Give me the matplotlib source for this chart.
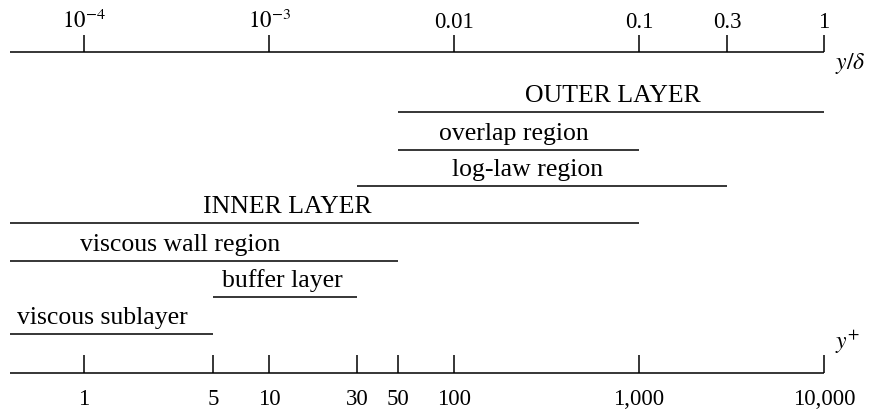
import matplotlib.pyplot as plt

# regions of the wall-bounded flow, in y+ (wall units)
regions = ['OUTER LAYER', 'overlap region', 'log-law region', 'INNER LAYER',
           'viscous wall region', 'buffer layer', 'viscous sublayer']
starts = [50, 50, 30, 0.4, 0.4, 5, 0.4]
ends = [10000, 1000, 3000, 1000, 50, 30, 5]
label_x = [720, 210, 250, 12.5, 3.3, 11.8, 1.25]
rows = [112, 150, 186, 223, 261, 297, 334]

# axes ticks
yplus_ticks = [1, 5, 10, 30, 50, 100, 1000, 10000]
yplus_labels = ['1', '5', '10', '30', '50', '100', '1,000', '10,000']
ydelta_ticks = [1e-4, 1e-3, 0.01, 0.1, 0.3, 1]
ydelta_labels = [r'$10^{-4}$', r'$10^{-3}$', '0.01', '0.1', '0.3', '1']
Re_tau = 10000  # y+ = y/delta * Re_tau

plt.rcParams['font.family'] = ['Liberation Serif', 'DejaVu Serif']
plt.rcParams['mathtext.fontset'] = 'stix'

fig = plt.figure(figsize=(8.77, 4.17), dpi=100)
ax = fig.add_axes([0, 0, 1, 1])
ax.set_xscale('log')
ax.set_xlim(0.351, 19330)
ax.set_ylim(417, 0)
ax.axis('off')

lw = 1.1
x_left = 0.4

# top axis: y/delta
ax.hlines(52, x_left, Re_tau, color='k', lw=lw)
ax.vlines([t * Re_tau for t in ydelta_ticks], 35, 52, color='k', lw=lw)
for t, lab in zip(ydelta_ticks, ydelta_labels):
    ax.text(t * Re_tau, 28, lab, ha='center', va='baseline', fontsize=16.5)
ax.text(Re_tau * 1.15, 69, r'$y/\delta$', ha='left', va='baseline', fontsize=17)

# bottom axis: y+
ax.hlines(373, x_left, Re_tau, color='k', lw=lw)
ax.vlines(yplus_ticks, 355, 373, color='k', lw=lw)
for t, lab in zip(yplus_ticks, yplus_labels):
    ax.text(t, 405, lab, ha='center', va='baseline', fontsize=16.5)
ax.text(Re_tau * 1.15, 349, r'$y^{+}$', ha='left', va='baseline', fontsize=17)

# region bars
for name, s, e, lx, r in zip(regions, starts, ends, label_x, rows):
    ax.hlines(r, s, e, color='k', lw=lw)
    ax.text(lx, r - 10, name, ha='center', va='baseline', fontsize=18.5)

plt.savefig('out.png', dpi=100)
